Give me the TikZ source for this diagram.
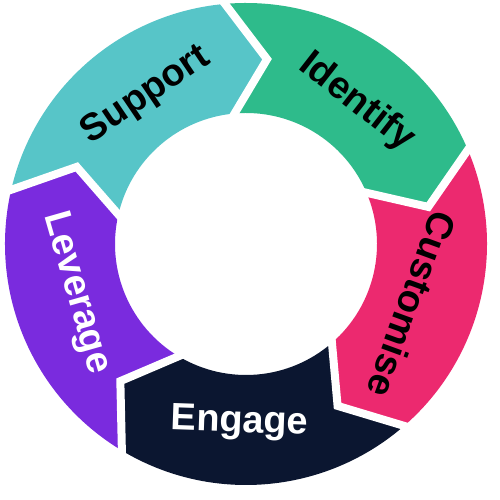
\documentclass[tikz,border=0pt]{standalone}
\usepackage{fontspec}
\setmainfont{Liberation Sans}
\usetikzlibrary{calc}
\definecolor{cyclesupport}{RGB}{87,197,200}
\definecolor{cycleidentify}{RGB}{46,187,139}
\definecolor{cyclecustomise}{RGB}{236,41,111}
\definecolor{cycleengage}{RGB}{11,22,48}
\definecolor{cycleleverage}{RGB}{122,43,222}

\begin{document}
\begin{tikzpicture}[x=1pt,y=1pt,font=\fontsize{38}{42}\selectfont\bfseries,
  gap/.style={draw=white,line width=8pt,line join=miter,miter limit=10}]
\path[use as bounding box] (0,0) rectangle (500,500);
\begin{scope}[shift={(246,256)}]
% ring segments: 72 degrees each, clockwise, tip 11.5 degrees past the joint
\fill[cyclesupport] (167:241) arc[start angle=167,end angle=95,radius=241]
 -- (83.5:186) -- (95:131) arc[start angle=95,end angle=167,radius=131]
 -- (155.5:186) -- cycle;
\fill[cycleidentify] (95:241) arc[start angle=95,end angle=23,radius=241]
 -- (11.5:186) -- (23:131) arc[start angle=23,end angle=95,radius=131]
 -- (83.5:186) -- cycle;
\fill[cyclecustomise] (23:241) arc[start angle=23,end angle=-49,radius=241]
 -- (-60.5:186) -- (-49:131) arc[start angle=-49,end angle=23,radius=131]
 -- (11.5:186) -- cycle;
\fill[cycleengage] (-49:241) arc[start angle=-49,end angle=-121,radius=241]
 -- (-132.5:186) -- (-121:131) arc[start angle=-121,end angle=-49,radius=131]
 -- (-60.5:186) -- cycle;
\fill[cycleleverage] (239:241) arc[start angle=239,end angle=167,radius=241]
 -- (155.5:186) -- (167:131) arc[start angle=167,end angle=239,radius=131]
 -- (227.5:186) -- cycle;
% white gaps along the joints
\draw[gap] ($(83.5:186)!1.2!(95:241)$) -- (83.5:186) -- ($(83.5:186)!1.2!(95:131)$);
\draw[gap] ($(11.5:186)!1.2!(23:241)$) -- (11.5:186) -- ($(11.5:186)!1.2!(23:131)$);
\draw[gap] ($(-60.5:186)!1.2!(-49:241)$) -- (-60.5:186) -- ($(-60.5:186)!1.2!(-49:131)$);
\draw[gap] ($(-132.5:186)!1.2!(-121:241)$) -- (-132.5:186) -- ($(-132.5:186)!1.2!(-121:131)$);
\draw[gap] ($(155.5:186)!1.2!(167:241)$) -- (155.5:186) -- ($(155.5:186)!1.2!(167:131)$);
\node[rotate=34] (support) at (124:179) {Support};
\node[rotate=-38] (identify) at (52:180) {Identify};
\node[rotate=-110] (customise) at (-20:177) {Customise};
\node[rotate=-2,text=white] (engage) at (-92:179) {Engage};
\node[rotate=-74,text=white] (leverage) at (-164:177) {Leverage};
\end{scope}
\end{tikzpicture}
\end{document}
